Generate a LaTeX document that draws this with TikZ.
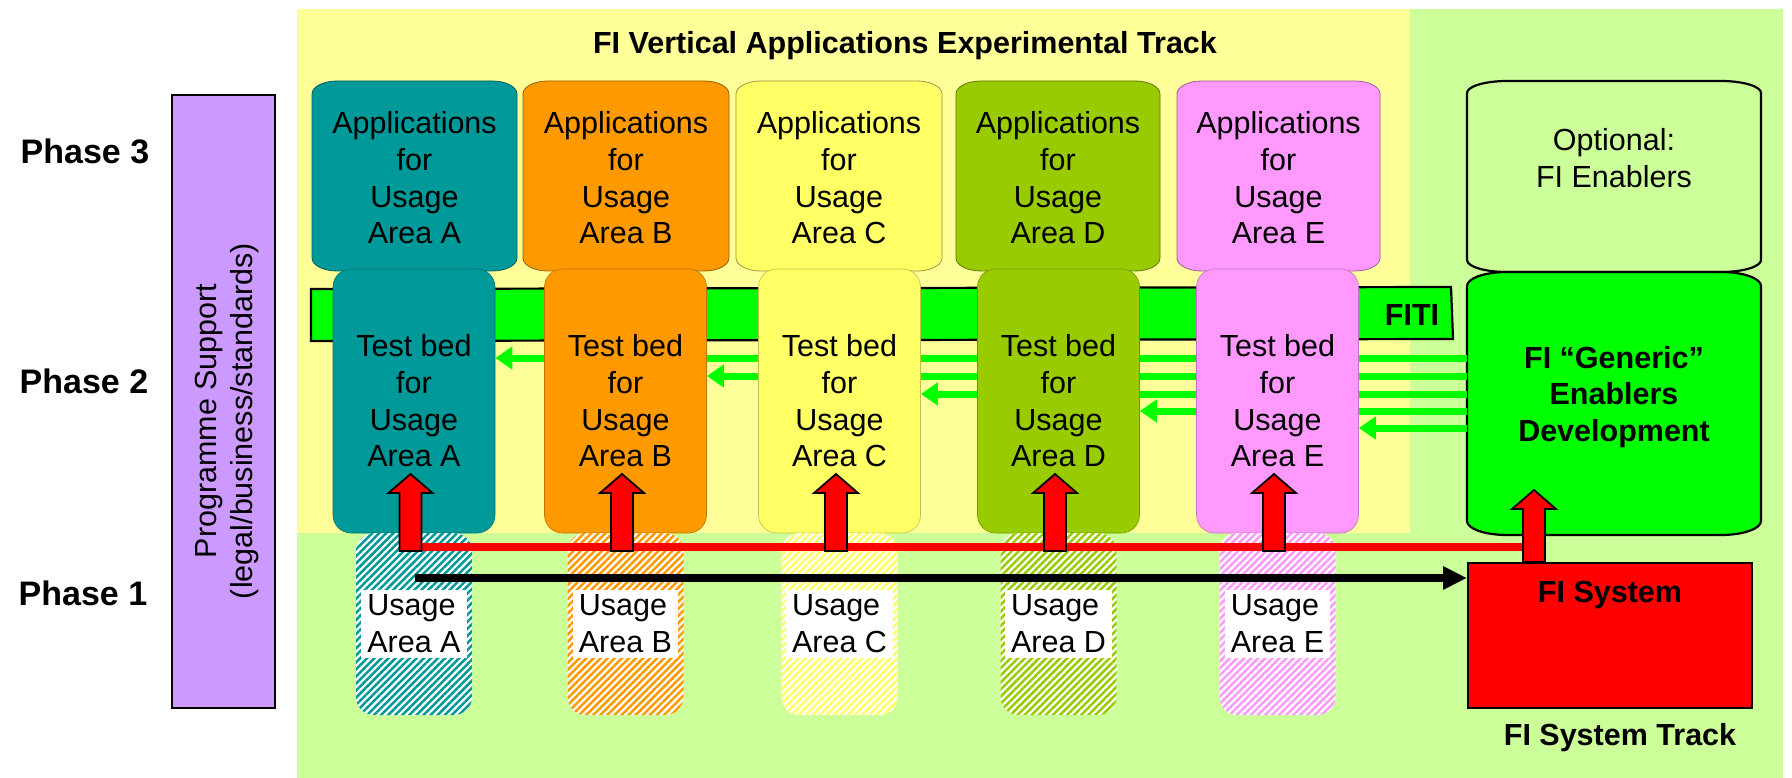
\documentclass[tikz,border=0pt]{standalone}
\usepackage{fontspec}
\setmainfont{Liberation Sans}
\usetikzlibrary{arrows.meta,patterns.meta,calc}
\pgfdeclarelayer{bg}
\pgfdeclarelayer{mid}
\pgfsetlayers{bg,mid,main}
\definecolor{bgyellow}{HTML}{FFFF99}
\definecolor{bggreen}{HTML}{CCFF99}
\definecolor{purp}{HTML}{CC99FF}
\definecolor{ca}{HTML}{009999}
\definecolor{cb}{HTML}{FF9900}
\definecolor{cc}{HTML}{FFFF66}
\definecolor{cd}{HTML}{99CC00}
\definecolor{ce}{HTML}{FF99FF}
\definecolor{brightgreen}{HTML}{00FF00}
\definecolor{redc}{HTML}{FF0000}
% capsule: #1 options, #2 x1, #3 top, #4 x2, #5 bottom, #6 rx, #7 ry
\newcommand\capsule[7]{%
  \path[#1] ({#2},{-(#3)-(#7)})
    arc[start angle=180,end angle=90,x radius=#6pt,y radius=#7pt]
    -- ({#4-#6},{-(#3)})
    arc[start angle=90,end angle=0,x radius=#6pt,y radius=#7pt]
    -- ({#4},{-(#5)+#7})
    arc[start angle=0,end angle=-90,x radius=#6pt,y radius=#7pt]
    -- ({#2+#6},{-(#5)})
    arc[start angle=270,end angle=180,x radius=#6pt,y radius=#7pt]
    -- cycle;}
% block arrow up: #1 bottom coordinate (y used), #2 tip coordinate
\newcommand\blockup[2]{%
  \draw[blockarr] let \p1=(#1), \p2=(#2) in
    (\x2-11pt,\y1) -- (\x2-11pt,\y2-19pt) -- (\x2-22pt,\y2-19pt) -- (\x2,\y2)
    -- (\x2+22pt,\y2-19pt) -- (\x2+11pt,\y2-19pt) -- (\x2+11pt,\y1) -- cycle;}
\tikzset{
  txt/.style={font=\fontsize{30.5}{36.7}\selectfont, align=center, inner sep=0pt},
  btxt/.style={font=\fontsize{30.5}{36.7}\selectfont\bfseries, align=center, inner sep=0pt},
  phase/.style={font=\fontsize{34}{40}\selectfont\bfseries, inner sep=0pt},
  testbed/.style={txt, fill=#1, draw=#1!75!black, line width=0.6pt, rounded corners=18pt,
    minimum width=162pt, minimum height=264pt},
  hatchbox/.style={fill=white, rounded corners=18pt, minimum width=116pt, minimum height=182pt,
    inner sep=0pt, postaction={pattern={Lines[angle=45,distance=5pt,line width=2.5pt]}, pattern color=#1}},
  ulabel/.style={txt, fill=white, align=left, inner xsep=6pt, inner ysep=5pt},
  garr/.style={brightgreen, line width=7pt, -{Triangle[length=17pt,width=22pt]}},
  blockarr/.style={fill=redc, draw=black, line width=1.8pt, line join=miter},
}
\begin{document}
\begin{tikzpicture}[x=1pt,y=1pt]
\useasboundingbox (0,0) rectangle (1792,-778);
\begin{pgfonlayer}{bg}
  \fill[white] (0,0) rectangle (1792,-778);
  \fill[bggreen] (297,-9) rectangle (1783,-778);
  \fill[bgyellow] (297,-9) rectangle (1410,-533);
  \node[draw=black, line width=2pt, fill=purp, minimum width=103pt, minimum height=613pt, inner sep=0pt] (prog) at (223.5,-401.5) {};
  \node[txt, rotate=90] (progtext) at (227,-421) {Programme Support\\(legal/business/standards)};
  \node[phase] (ph3) at (85,-151) {Phase 3};
  \node[phase] (ph2) at (84,-381) {Phase 2};
  \node[phase] (ph1) at (83,-593) {Phase 1};
  \node[btxt] (title) at (905,-46) {FI Vertical Applications Experimental Track};
  \foreach \k/\col/\xa/\xb in {A/ca/312/517, B/cb/523/729, C/cc/736/942, D/cd/956/1160, E/ce/1177/1380}{
    \capsule{fill=\col, draw=\col!60!black, line width=0.8pt}{\xa}{81}{\xb}{271}{25}{13}
    \node[txt] (app\k) at ({(\xa+\xb)/2},-178) {Applications\\for\\Usage\\Area \k};
  }
  \capsule{fill=bggreen, draw=black, line width=2.2pt}{1467}{81}{1761}{272}{40}{12}
  \node[txt] (opt) at (1614,-158) {Optional:\\FI Enablers};
  \capsule{fill=brightgreen, draw=black, line width=2.2pt}{1467}{272}{1761}{535}{40}{14}
  \draw[fill=brightgreen, line width=2.2pt] (311,-289) -- (1451,-287) -- (1453,-339) -- (311,-341) -- cycle;
  \node[btxt] (fiti) at (1412,-315) {FITI};
\end{pgfonlayer}
\node[btxt, minimum width=294pt, minimum height=264pt] (gen) at (1614,-397) {FI “Generic”\\Enablers\\Development};
\foreach \k/\col/\xc/\xd in {A/ca/333/495, B/cb/545/706, C/cc/759/920, D/cd/977/1140, E/ce/1197/1358}{
  \node[testbed=\col] (tb\k) at ({(\xc+\xd)/2},-401) {Test bed\\for\\Usage\\Area \k};
  \node[hatchbox=\col] (use\k) at ({(\xc+\xd)/2},-624) {};
  \node[ulabel] (lab\k) at ({(\xc+\xd)/2},-624) {Usage\\Area \k};
  \coordinate (tip\k) at ({(\xc+\xd)/2-3.5},-474);
}
\coordinate (yA) at (0,-358);
\coordinate (yB) at (0,-376);
\coordinate (yC) at (0,-394);
\coordinate (yD) at (0,-411);
\coordinate (yE) at (0,-428);
\begin{pgfonlayer}{mid}
  \foreach \k in {A,B,C,D,E}{
    \draw[garr] (gen.west |- y\k) -- (tb\k.east |- y\k);
  }
\end{pgfonlayer}
\node[draw=black, line width=2pt, fill=redc, minimum width=284pt, minimum height=145pt, inner sep=0pt] (sys) at (1610,-635.5) {};
\node[btxt] (systext) at (1610,-595) {FI System};
\node[btxt] (track) at (1620,-738) {FI System Track};
\coordinate (rl1) at (399,-547);
\coordinate (rl2) at (1523,-547);
\coordinate (rlb) at (0,-551);
\coordinate (blk) at (415,-578);
\coordinate (gtip) at (1534,-490);
\draw[redc, line width=8pt] (rl1) -- (rl2);
\draw[line width=8pt, -{Triangle[length=24pt,width=22pt]}] (blk) -- (sys.west |- blk);
\foreach \k in {A,B,C,D,E}{ \blockup{rlb}{tip\k} }
\blockup{sys.north}{gtip}
\end{tikzpicture}
\end{document}
